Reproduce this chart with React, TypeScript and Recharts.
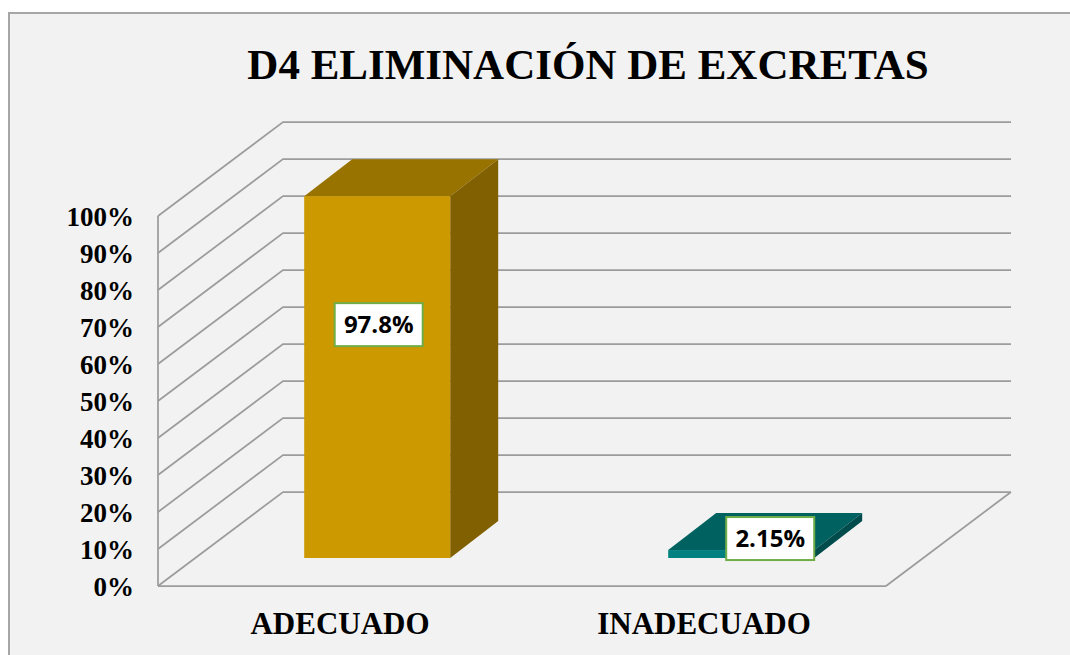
import { BarChart, Bar, XAxis, YAxis, CartesianGrid, LabelList } from 'recharts';

const categories = ['ADECUADO', 'INADECUADO'];
const percentages = [97.8, 2.15];
const yTicks = [0, 10, 20, 30, 40, 50, 60, 70, 80, 90, 100];

const frontColors = ['#cc9900', '#008080'];
const topColors = ['#997300', '#006161'];
const sideColors = ['#806000', '#004c4c'];

const data = categories.map((name, i) => ({ name, value: percentages[i] }));

// fake 3d offsets
const WALL_DX = 125;
const WALL_DY = -94;
const BAR_DX = 37;
const BAR_DY = -28;
const DEPTH_DX = 48;
const DEPTH_DY = -37;
const GRID = '#9c9c9c';

const gridLine = (props: any) => {
  const { x1, y1, x2, y, height, key } = props;
  const isFloor = height != null ? Math.abs(y1 - (y + height)) < 1 : y1 > 580;
  const by = y1 + WALL_DY;
  let d = `M${x1},${y1} L${x1 + WALL_DX},${by} L${x2 + WALL_DX},${by}`;
  if (isFloor) d += ` M${x2},${y1} L${x2 + WALL_DX},${by}`;
  return <path key={key} d={d} stroke={GRID} strokeWidth={1.75} fill="none" />;
};

const Bar3D = (props: any) => {
  const { x, y, width, height, index } = props;
  const fx = x + BAR_DX;
  const fy = y + BAR_DY;
  return (
    <g>
      <polygon
        points={`${fx},${fy} ${fx + DEPTH_DX},${fy + DEPTH_DY} ${fx + width + DEPTH_DX},${fy + DEPTH_DY} ${fx + width},${fy}`}
        fill={topColors[index]}
      />
      <polygon
        points={`${fx + width},${fy} ${fx + width + DEPTH_DX},${fy + DEPTH_DY} ${fx + width + DEPTH_DX},${fy + height + DEPTH_DY} ${fx + width},${fy + height}`}
        fill={sideColors[index]}
      />
      <rect x={fx} y={fy} width={width} height={height} fill={frontColors[index]} />
    </g>
  );
};

const LABEL_SHIFT = [{ dx: 1.5, dy: 128.5 }, { dx: 29, dy: -11.5 }];

const ValueLabel = (props: any) => {
  const { x, y, width, value } = props;
  const index = props.index ?? 0;
  const s = LABEL_SHIFT[index];
  const cx = x + BAR_DX + width / 2 + s.dx;
  const cy = y + BAR_DY + s.dy;
  return (
    <g>
      <rect x={cx - 44} y={cy - 21.5} width={88} height={43} fill="#ffffff" stroke="#70ad47" strokeWidth={2} />
      <text
        x={cx}
        y={cy + 8.5}
        textAnchor="middle"
        fontFamily="'Open Sans', sans-serif"
        fontWeight={700}
        fontSize={24}
        fill="#000"
      >
        {`${value}%`}
      </text>
    </g>
  );
};

const YTick = (props: any) => {
  const { y, payload } = props;
  return (
    <text x={134} y={y + 10} textAnchor="end" fontFamily="'Liberation Serif', serif" fontWeight={700} fontSize={27} fill="#000">
      {`${payload.value}%`}
    </text>
  );
};

const XTick = (props: any) => {
  const { x, payload } = props;
  return (
    <text x={x} y={634} textAnchor="middle" fontFamily="'Liberation Serif', serif" fontWeight={700} fontSize={31} fill="#000">
      {payload.value}
    </text>
  );
};

const App = () => {
  return (
    <div style={{ position: 'absolute', left: 0, top: 0, width: 1070, height: 655, background: '#fff', overflow: 'hidden' }}>
      <svg width={1070} height={655} style={{ position: 'absolute', left: 0, top: 0 }}>
        <rect x={9} y={13} width={1080} height={660} fill="#f2f2f2" stroke="#a6a6a6" strokeWidth={2} />
        <text
          x={588}
          y={79}
          textAnchor="middle"
          fontFamily="'Liberation Serif', serif"
          fontWeight={700}
          fontSize={43}
          fill="#000"
        >
          D4 ELIMINACIÓN DE EXCRETAS
        </text>
      </svg>
      <div style={{ position: 'absolute', left: 0, top: 0 }}>
        <BarChart
          width={1070}
          height={655}
          data={data}
          margin={{ top: 216, right: 184, bottom: 0, left: 98 }}
          barCategoryGap="30%"
        >
          <CartesianGrid vertical={false} horizontal={gridLine} />
          <XAxis
            dataKey="name"
            height={69}
            axisLine={{ stroke: GRID, strokeWidth: 1.75 }}
            tickLine={false}
            tick={<XTick />}
          />
          <YAxis
            width={60}
            domain={[0, 100]}
            ticks={yTicks}
            axisLine={{ stroke: GRID, strokeWidth: 1.75 }}
            tickLine={false}
            tick={<YTick />}
          />
          <Bar dataKey="value" shape={<Bar3D />} isAnimationActive={false}>
            <LabelList dataKey="value" content={<ValueLabel />} />
          </Bar>
        </BarChart>
      </div>
    </div>
  );
};

export default App;
